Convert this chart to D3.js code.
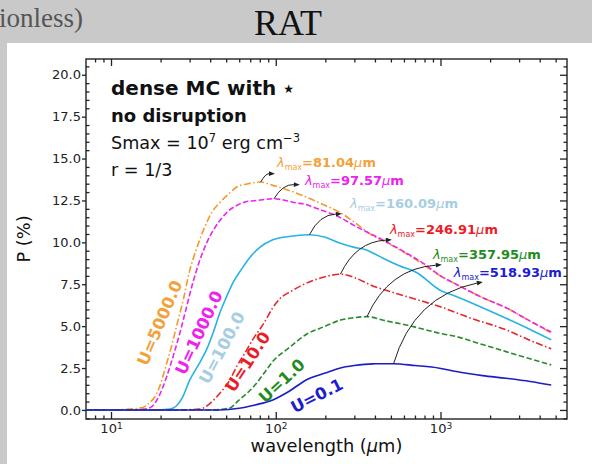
<!DOCTYPE html>
<html>
<head>
<meta charset="utf-8">
<script src="https://cdn.jsdelivr.net/npm/d3@7"></script>
<style>
  html, body { margin: 0; padding: 0; background: #c9c9c9; }
  svg { display: block; }
  text { font-family: "DejaVu Sans", sans-serif; }
</style>
</head>
<body>
<svg id="chart" width="592" height="464"></svg>
<script>
// ---- data: polarization spectra P(lambda) for several radiation strengths U ----
const seriesNames = ["U=5000.0", "U=1000.0", "U=100.0", "U=10.0", "U=1.0", "U=0.1"];
const lambdaMax = [81.04, 97.57, 160.09, 246.91, 357.95, 518.93];

// [wavelength (um), P (%)]
const curveU5000 = [[7,0],[10,0],[13,0.05],[15.6,0.15],[17,0.4],[19,1.0],[21.8,2.8],[23,3.6],[25,5.0],[27.5,6.6],[30,8.3],[33,9.6],[37,10.9],[41,11.8],[46,12.4],[52,12.9],[58,13.3],[68,13.5],[81.04,13.6],[96,13.4],[120,13.1],[153,12.7],[200,12.2],[244,11.8],[300,11.2],[388,10.4],[490,9.9],[700,9.0],[1000,8.0],[1245,7.5],[1800,6.7],[2500,6.1],[3500,5.3],[4700,4.6]];
const curveU1000 = [[7,0],[12,0],[16,0.05],[17.7,0.2],[19.5,0.8],[21.8,2.0],[24,3.3],[26.2,4.6],[28.5,6.0],[31.4,7.6],[34.5,8.9],[38.2,10.0],[45.8,11.3],[52,11.9],[58,12.2],[68,12.45],[77,12.5],[97.57,12.6],[115,12.5],[134,12.35],[146,12.3],[180,12.0],[244,11.5],[300,11.0],[445,10.15],[563,9.6],[800,8.7],[1000,8.0],[1245,7.5],[1800,6.7],[2500,6.1],[3500,5.3],[4700,4.65]];
const curveU100 = [[7,0],[18,0],[22.8,0.05],[25,0.25],[27,0.7],[30.1,1.8],[34,2.7],[38,3.6],[42,4.7],[45.8,5.8],[50,6.7],[55,7.6],[62,8.4],[69.6,9.1],[80,9.7],[96,10.15],[120,10.35],[160.09,10.45],[200,10.3],[244,9.96],[300,9.7],[355,9.55],[400,9.3],[445,9.07],[563,8.6],[715,8.2],[987,7.16],[1245,6.77],[1800,6.1],[2500,5.47],[3500,4.8],[4700,4.18]];
const curveU10 = [[7,0],[25,0],[34.6,0.05],[40,0.4],[45.8,1.0],[52,1.7],[58,2.6],[65,3.4],[72.5,4.2],[85,5.2],[96,6.1],[105,6.6],[125,7.1],[153,7.56],[200,7.95],[246.91,8.1],[300,7.9],[388,7.4],[500,7.05],[620,6.77],[800,6.45],[987,6.17],[1500,5.5],[2500,4.78],[3500,4.15],[4700,3.65]];
const curveU1 = [[7,0],[40,0],[52,0.1],[60,0.6],[67,1.0],[75,1.5],[85,2.2],[96,2.9],[120,3.7],[153,4.5],[200,5.0],[244,5.35],[300,5.5],[357.95,5.57],[450,5.35],[620,5.07],[800,4.8],[987,4.58],[1245,4.38],[1800,3.9],[2500,3.48],[3500,3.05],[4700,2.69]];
const curveU01 = [[7,0],[45,0],[60,0.1],[75,0.3],[96,0.6],[120,1.1],[153,1.79],[200,2.2],[244,2.49],[300,2.65],[388,2.75],[518.93,2.76],[700,2.65],[987,2.49],[1245,2.29],[1800,2.05],[2500,1.89],[3500,1.7],[4700,1.49]];
const curves = [curveU5000, curveU1000, curveU100, curveU10, curveU1, curveU01];

// tick values
const yMajorTicks = [0, 2.5, 5, 7.5, 10, 12.5, 15, 17.5, 20];
const xMajorTicks = [10, 100, 1000];
const xTickExponents = ["1", "2", "3"];

// ---- styles ----
const lineColors  = ["#f39a2a", "#ee22ee", "#27b2e4", "#e8242c", "#2a8a2a", "#1c1cc8"];
const labelColors = ["#f2a23a", "#ee22ee", "#a6cde2", "#ec1c26", "#1f8c1f", "#1c1cd0"];
const dashes = ["7,2.5,1.5,2.5", "5.5,2.5", null, "7,2.5,1.5,2.5", "5.5,2.5", null];

const W = 592, H = 464;
const svg = d3.select("#chart");

// page background and white panel
svg.append("rect").attr("width", W).attr("height", H).attr("fill", "#c9c9c9");
svg.append("rect").attr("x", 7).attr("y", 43).attr("width", W - 7).attr("height", H - 43).attr("fill", "#ffffff");

svg.append("text").attr("x", 288).attr("y", 35).attr("text-anchor", "middle")
  .style("font-family", "'Liberation Serif', serif").attr("font-size", 36).attr("fill", "#111")
  .text("RAT");
svg.append("text").attr("x", -1).attr("y", 27)
  .style("font-family", "'Liberation Serif', serif").attr("font-size", 27).attr("fill", "#555")
  .text("ionless)");

// ---- plot area ----
const M = { l: 86, t: 59, r: 567, b: 419 };
const x = d3.scaleLog().domain([7.05, 5860]).range([M.l, M.r]);
const y = d3.scaleLinear().domain([-0.54, 20.94]).range([M.b, M.t]);

const xMinorTicks = [];
for (const dec of [1, 10, 100, 1000]) {
  for (let k = 2; k <= 9; k++) {
    const v = k * dec;
    if (v >= x.domain()[0] && v <= x.domain()[1]) xMinorTicks.push(v);
  }
}
const yMinorTicks = d3.range(-0.5, 20.95, 0.5).filter(v => Math.abs(v / 2.5 - Math.round(v / 2.5)) > 1e-6);

const tickColor = "#222";
function styleAxis(g) {
  g.select(".domain").remove();
  g.selectAll(".tick line").attr("stroke", tickColor).attr("stroke-width", 1.3);
}

// bottom axis: inward ticks, 10^n labels
const gBottom = svg.append("g").attr("transform", `translate(0,${M.b})`)
  .call(d3.axisBottom(x).tickValues(xMajorTicks).tickSize(-7).tickPadding(5).tickFormat(() => ""))
  .call(styleAxis);
gBottom.selectAll(".tick text").each(function(d, i) {
  const t = d3.select(this).attr("fill", tickColor).attr("font-size", 13);
  t.append("tspan").text("10");
  t.append("tspan").attr("font-size", 9).attr("dy", "-0.45em").text(xTickExponents[i]);
});
svg.append("g").attr("transform", `translate(0,${M.b})`)
  .call(d3.axisBottom(x).tickValues(xMinorTicks).tickSize(-3.5).tickFormat(() => ""))
  .call(styleAxis);

// top axis
svg.append("g").attr("transform", `translate(0,${M.t})`)
  .call(d3.axisTop(x).tickValues(xMajorTicks).tickSize(-7).tickFormat(() => ""))
  .call(styleAxis);
svg.append("g").attr("transform", `translate(0,${M.t})`)
  .call(d3.axisTop(x).tickValues(xMinorTicks).tickSize(-3.5).tickFormat(() => ""))
  .call(styleAxis);

// left axis: labelled major ticks outward, minor ticks inward
svg.append("g").attr("transform", `translate(${M.l},0)`)
  .call(d3.axisLeft(y).tickValues(yMajorTicks).tickSize(4).tickPadding(1).tickFormat(d3.format(".1f")))
  .call(styleAxis)
  .call(g => g.selectAll(".tick text").attr("fill", tickColor).attr("font-size", 13));
svg.append("g").attr("transform", `translate(${M.l},0)`)
  .call(d3.axisLeft(y).tickValues(yMinorTicks).tickSize(-3.5).tickFormat(() => ""))
  .call(styleAxis);

// right axis
svg.append("g").attr("transform", `translate(${M.r},0)`)
  .call(d3.axisRight(y).tickValues(yMajorTicks).tickSize(-7).tickFormat(() => ""))
  .call(styleAxis);
svg.append("g").attr("transform", `translate(${M.r},0)`)
  .call(d3.axisRight(y).tickValues(yMinorTicks).tickSize(-3.5).tickFormat(() => ""))
  .call(styleAxis);

// frame
svg.append("rect").attr("x", M.l).attr("y", M.t).attr("width", M.r - M.l).attr("height", M.b - M.t)
  .attr("fill", "none").attr("stroke", "#222").attr("stroke-width", 1.4);

// axis titles
svg.append("text").attr("x", (M.l + M.r) / 2).attr("y", 452).attr("text-anchor", "middle")
  .attr("font-size", 17.8).attr("fill", "#111")
  .call(t => { t.append("tspan").text("wavelength ("); t.append("tspan").attr("font-style", "italic").text("μ"); t.append("tspan").text("m)"); });
svg.append("text").attr("transform", `translate(30,${(M.t + M.b) / 2}) rotate(-90)`).attr("text-anchor", "middle")
  .attr("font-size", 17.8).attr("fill", "#111").text("P (%)");

// ---- curves ----
svg.append("clipPath").attr("id", "plotclip").append("rect")
  .attr("x", M.l).attr("y", M.t).attr("width", M.r - M.l).attr("height", M.b - M.t);
const line = d3.line().x(d => x(d[0])).y(d => y(d[1])).curve(d3.curveMonotoneX);
const gCurves = svg.append("g").attr("clip-path", "url(#plotclip)");
curves.forEach((c, i) => {
  gCurves.append("path").datum(c).attr("d", line)
    .attr("fill", "none").attr("stroke", lineColors[i]).attr("stroke-width", 1.6)
    .attr("stroke-dasharray", dashes[i]);
});

// ---- curve labels (rotated), placed at [wavelength, P, angle] ----
const curveLabelAt = [[19.8, 5.19, 67], [34.2, 4.6, 65], [47.2, 3.7, 62], [67.7, 2.87, 57], [109, 1.73, 43], [178, 0.84, 27]];
curveLabelAt.forEach((p, i) => {
  svg.append("text")
    .attr("transform", `translate(${x(p[0])},${y(p[1])}) rotate(${-p[2]})`)
    .attr("text-anchor", "middle").attr("dominant-baseline", "central")
    .attr("font-size", 16.4).attr("font-weight", "bold").attr("fill", labelColors[i])
    .text(seriesNames[i]);
});

// ---- lambda_max annotations with curved arrows ----
const arrowHeadAt = [[98.9, 14.09], [140, 13.43], [252, 11.7], [507, 10.15], [1019, 8.66], [1807, 7.64]];
const annotTextAt = [[101.7, 14.51], [150.3, 13.43], [282, 12.06], [493, 10.51], [899, 9.01], [1205, 7.94]];
const gAnn = svg.append("g");
lambdaMax.forEach((lm, i) => {
  const peak = curves[i].find(d => d[0] === lm);
  const x1 = x(lm), y1 = y(peak[1]);
  const x2 = x(arrowHeadAt[i][0]), y2 = y(arrowHeadAt[i][1]);
  const dx = x2 - x1, dy = y2 - y1, f = 0.3;
  const cx = (x1 + x2) / 2 + f * dy, cy = (y1 + y2) / 2 - f * dx;
  const ang = Math.atan2(y2 - cy, x2 - cx);
  const hl = 6, hw = 2.4;
  const bx = x2 - hl * Math.cos(ang), by = y2 - hl * Math.sin(ang);
  gAnn.append("path").attr("d", `M${x1},${y1}Q${cx},${cy} ${bx},${by}`)
    .attr("fill", "none").attr("stroke", "#222").attr("stroke-width", 1);
  gAnn.append("path")
    .attr("d", `M${x2},${y2}L${bx - hw * Math.sin(ang)},${by + hw * Math.cos(ang)}L${bx + hw * Math.sin(ang)},${by - hw * Math.cos(ang)}Z`)
    .attr("fill", "#222");

  const t = gAnn.append("text").attr("x", x(annotTextAt[i][0])).attr("y", y(annotTextAt[i][1]))
    .attr("font-size", 13).attr("fill", labelColors[i]);
  t.append("tspan").attr("font-style", "italic").text("λ");
  t.append("tspan").attr("font-size", 8).attr("dy", 3).text("max");
  t.append("tspan").attr("font-weight", "bold").attr("dy", -3).text("=" + lm.toFixed(2));
  t.append("tspan").attr("font-style", "italic").text("μ");
  t.append("tspan").attr("font-weight", "bold").text("m");
});

// ---- in-plot description ----
const desc = svg.append("g").attr("fill", "#111");
desc.append("text").attr("x", 111).attr("y", 95).attr("font-size", 20).attr("font-weight", "bold")
  .call(t => { t.append("tspan").text("dense MC with "); t.append("tspan").attr("font-size", 12).attr("dy", -2).text("★"); });
desc.append("text").attr("x", 111).attr("y", 121.5).attr("font-size", 18).attr("font-weight", "bold").text("no disruption");
desc.append("text").attr("x", 111).attr("y", 149).attr("font-size", 17.6)
  .call(t => {
    t.append("tspan").text("Smax = 10");
    t.append("tspan").attr("font-size", 11.5).attr("dy", -7).text("7");
    t.append("tspan").attr("dy", 7).text(" erg cm");
    t.append("tspan").attr("font-size", 11.5).attr("dy", -7).text("−3");
  });
desc.append("text").attr("x", 111).attr("y", 176).attr("font-size", 17.6).text("r = 1/3");
</script>
</body>
</html>
